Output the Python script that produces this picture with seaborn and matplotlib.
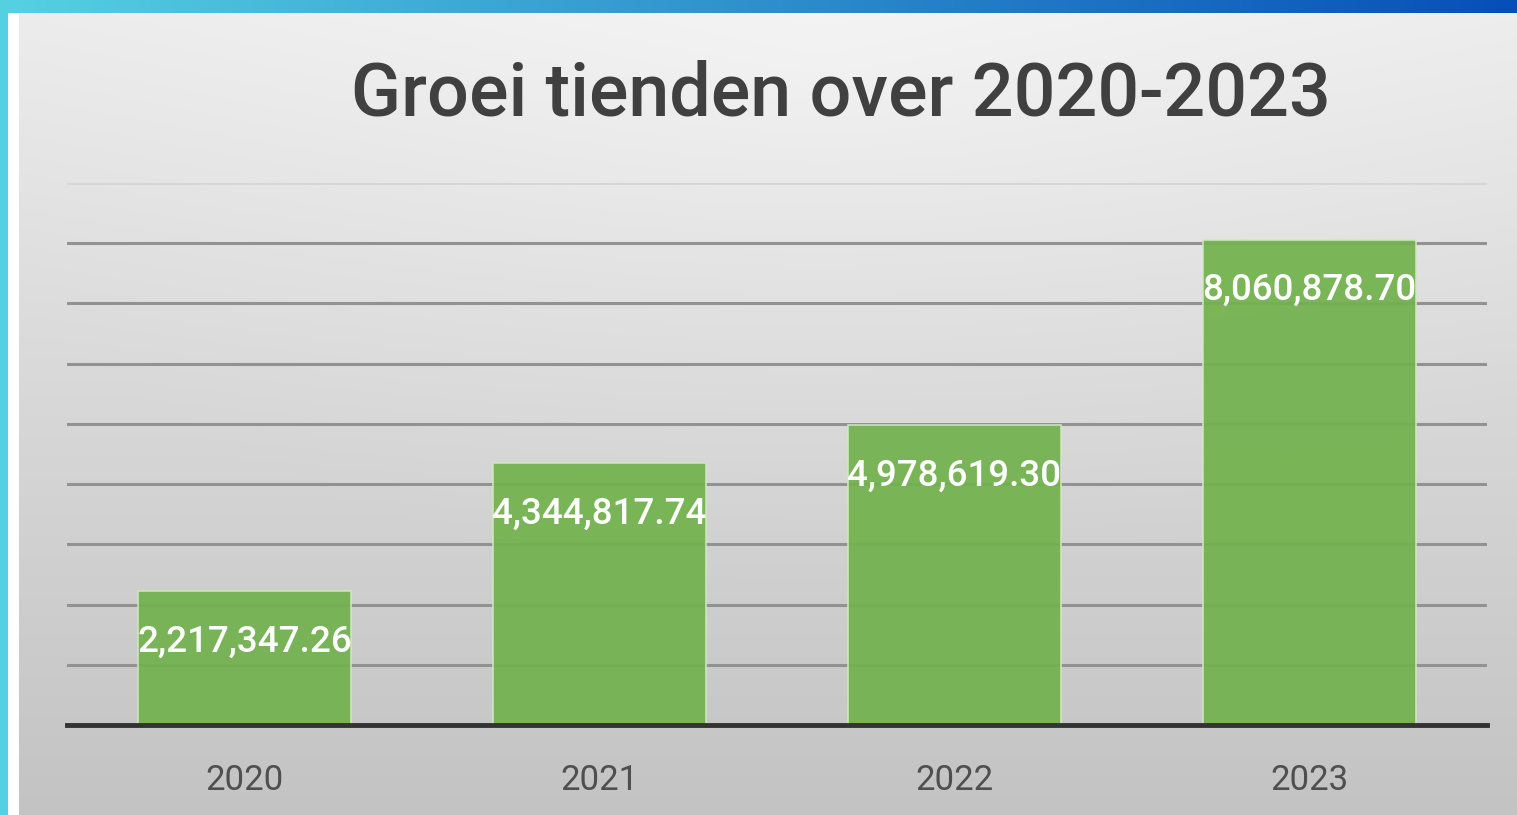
import numpy as np
import pandas as pd
import matplotlib
matplotlib.use("Agg")
import matplotlib.pyplot as plt
import seaborn as sns

years = ["2020", "2021", "2022", "2023"]
values = [2217347.26, 4344817.74, 4978619.30, 8060878.70]
labels = ["2,217,347.26", "4,344,817.74", "4,978,619.30", "8,060,878.70"]
title = "Groei tienden over 2020-2023"

df = pd.DataFrame({"year": years, "value": values})

sns.set_theme(style="white")
plt.rcParams["font.family"] = ["Roboto", "DejaVu Sans"]

W, H = 1517, 815
fig = plt.figure(figsize=(W / 100, H / 100), dpi=100)

# ---- background decoration ----
bg = fig.add_axes([0, 0, 1, 1], zorder=-10)
bg.set_axis_off()
yy, xx = np.mgrid[0:H, 0:W]
t = yy / H
base = 0.925 - 0.16 * t
r = np.sqrt(((xx - 820) / 900.0) ** 2 + ((yy - 60) / 520.0) ** 2)
base = base + 0.035 * np.clip(1 - r, 0, 1)
img = np.dstack([base, base, base])
strip = yy < 13
frac = xx / W
c0 = np.array([0x55, 0xd2, 0xe2]) / 255
c1 = np.array([0x06, 0x4e, 0xb8]) / 255
for k in range(3):
    ch = img[:, :, k]
    ch[strip] = (c0[k] + (c1[k] - c0[k]) * frac)[strip]
left = (xx < 8) & ~strip
white = (xx >= 8) & (xx < 19) & ~strip
for k in range(3):
    ch = img[:, :, k]
    ch[left] = c0[k]
    ch[white] = 1.0
bg.imshow(np.clip(img, 0, 1), extent=[0, 1, 0, 1], aspect="auto", origin="upper")
bg.set_xlim(0, 1)
bg.set_ylim(0, 1)

# ---- main chart ----
ax = fig.add_axes([67 / W, 1 - 725 / H, (1487 - 67) / W, (725 - 183) / H])
ax.patch.set_alpha(0)

sns.barplot(data=df, x="year", y="value", ax=ax, width=0.6,
            color="#72b24e", saturation=1, alpha=0.93,
            edgecolor="#cfe8bd", linewidth=1.2, zorder=3)

ax.set_ylim(0, 9_000_000)
ax.set_xlim(-0.5, 3.5)
ax.set_yticks(np.arange(0, 9_000_001, 1_000_000))
ax.yaxis.grid(True, color="#929292", linewidth=2.2, zorder=1)
gl = ax.get_ygridlines()
gl[-1].set_color("#d6d6d6")
gl[-1].set_linewidth(2)
ax.set_axisbelow(True)
ax.tick_params(axis="y", left=False, labelleft=False)
ax.tick_params(axis="x", length=0, pad=28, labelsize=25, labelcolor="#4f4f4f")
ax.set_xlabel("")
ax.set_ylabel("")
for s in ["top", "right", "left"]:
    ax.spines[s].set_visible(False)
ax.spines["bottom"].set_color("#333333")
ax.spines["bottom"].set_linewidth(3.5)
ax.spines["bottom"].set_zorder(5)

for i, (v, lab) in enumerate(zip(values, labels)):
    ax.annotate(lab, xy=(i, v), xytext=(0, -51), textcoords="offset pixels",
                ha="center", va="center", color="white", fontsize=26.5,
                fontweight="medium", zorder=6)

fig.text(841 / W, 1 - 95 / H, title, ha="center", va="center",
         fontsize=53, fontweight="medium", color="#404040")

fig.savefig("out.png", dpi=100)
